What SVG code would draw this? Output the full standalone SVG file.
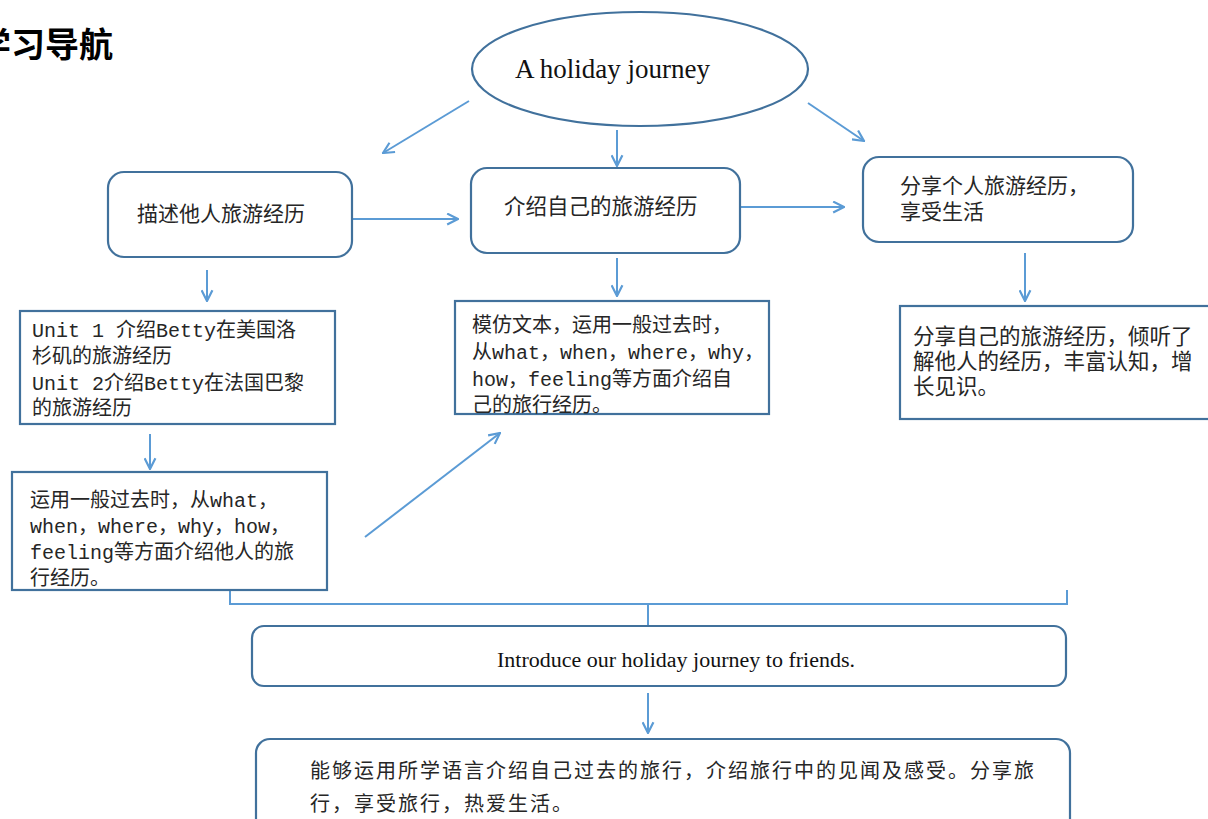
<svg xmlns="http://www.w3.org/2000/svg" width="1208" height="819" viewBox="0 0 1208 819">
<style>
.box{fill:#fff;stroke:#41719c;stroke-width:2.2}
.ln{fill:none;stroke:#5b9bd5;stroke-width:2}
.cj{font-family:"Liberation Serif","Noto Sans CJK SC",serif;fill:#262626}
.mo{font-family:"Liberation Mono","Noto Sans CJK SC",monospace;fill:#262626;font-size:20px}
.en{font-family:"Liberation Serif",serif;fill:#111}
</style>
<defs>
<marker id="ah" viewBox="0 0 12 12" refX="11" refY="6" markerWidth="13" markerHeight="13" markerUnits="userSpaceOnUse" orient="auto">
<path d="M1,1 L11,6 L1,11" fill="none" stroke="#5b9bd5" stroke-width="2"/>
</marker>
</defs>
<rect width="1208" height="819" fill="#fff"/>
<text x="-23" y="57" font-family="'Noto Sans CJK SC',sans-serif" font-weight="bold" font-size="34" fill="#000">学习导航</text>

<g id="connectors">
<line class="ln" x1="469" y1="101" x2="383" y2="153" marker-end="url(#ah)"/>
<line class="ln" x1="617" y1="130" x2="617" y2="166" marker-end="url(#ah)"/>
<line class="ln" x1="808" y1="103" x2="864" y2="141" marker-end="url(#ah)"/>
<line class="ln" x1="352" y1="219" x2="458" y2="219" marker-end="url(#ah)"/>
<line class="ln" x1="741" y1="207" x2="844" y2="207" marker-end="url(#ah)"/>
<line class="ln" x1="207" y1="270" x2="207" y2="301" marker-end="url(#ah)"/>
<line class="ln" x1="617" y1="258" x2="617" y2="296" marker-end="url(#ah)"/>
<line class="ln" x1="1025" y1="253" x2="1025" y2="301" marker-end="url(#ah)"/>
<line class="ln" x1="150" y1="434" x2="150" y2="469" marker-end="url(#ah)"/>
<line class="ln" x1="365" y1="537" x2="500" y2="433" marker-end="url(#ah)"/>
<line class="ln" x1="648" y1="693" x2="648" y2="733" marker-end="url(#ah)"/>
<path class="ln" d="M230,590 L230,604 L1067,604 L1067,590 M648,604 L648,628"/>
</g>

<g id="root">
<ellipse class="box" cx="640" cy="69" rx="168" ry="57"/>
<text class="en" x="515" y="78" font-size="27">A holiday journey</text>
</g>

<g id="others">
<rect class="box" x="108" y="172" width="244" height="85" rx="16"/>
<text class="cj" x="137" y="221" font-size="21">描述他人旅游经历</text>
</g>

<g id="self">
<rect class="box" x="471" y="168" width="269" height="85" rx="16"/>
<text class="cj" x="504" y="214" font-size="21.5">介绍自己的旅游经历</text>
</g>

<g id="share">
<rect class="box" x="863" y="157" width="270" height="85" rx="16"/>
<text class="cj" x="900" y="193" font-size="21">分享个人旅游经历，</text>
<text class="cj" x="900" y="219" font-size="21">享受生活</text>
</g>

<g id="units">
<rect class="box" x="20" y="311" width="315" height="113"/>
<text class="mo" x="32" y="337">Unit 1 介绍Betty在美国洛</text>
<text class="mo" x="32" y="363">杉矶的旅游经历</text>
<text class="mo" x="32" y="390">Unit 2介绍Betty在法国巴黎</text>
<text class="mo" x="32" y="415">的旅游经历</text>
</g>

<g id="describe">
<rect class="box" x="12" y="472" width="315" height="118"/>
<text class="mo" x="30" y="507">运用一般过去时，从what，</text>
<text class="mo" x="30" y="533">when，where，why，how，</text>
<text class="mo" x="30" y="559">feeling等方面介绍他人的旅</text>
<text class="mo" x="30" y="585">行经历。</text>
</g>

<g id="imitate">
<rect class="box" x="455" y="301" width="314" height="113"/>
<text class="mo" x="472" y="332">模仿文本，运用一般过去时，</text>
<text class="mo" x="472" y="359">从what，when，where，why，</text>
<text class="mo" x="472" y="386">how，feeling等方面介绍自</text>
<text class="mo" x="472" y="412">己的旅行经历。</text>
</g>

<g id="listen">
<rect class="box" x="900" y="306" width="320" height="113"/>
<text class="cj" x="913" y="344" font-size="21.5">分享自己的旅游经历，倾听了</text>
<text class="cj" x="913" y="369" font-size="21.5">解他人的经历，丰富认知，增</text>
<text class="cj" x="913" y="394" font-size="21.5">长见识。</text>
</g>

<g id="introduce">
<rect class="box" x="252" y="626" width="814" height="60" rx="12"/>
<text class="en" x="497" y="667" font-size="20" textLength="358" lengthAdjust="spacingAndGlyphs">Introduce our holiday journey to friends.</text>
</g>

<g id="goal">
<rect class="box" x="256" y="739" width="814" height="100" rx="14"/>
<text class="cj" x="310" y="778" font-size="20" letter-spacing="2">能够运用所学语言介绍自己过去的旅行，介绍旅行中的见闻及感受。分享旅</text>
<text class="cj" x="310" y="811" font-size="20" letter-spacing="2">行，享受旅行，热爱生活。</text>
</g>
</svg>
